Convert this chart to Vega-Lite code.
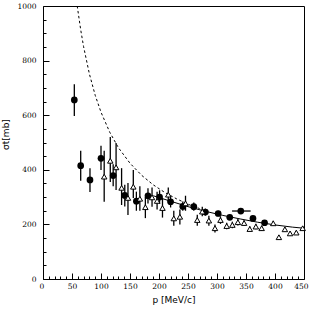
{
  "$schema": "https://vega.github.io/schema/vega-lite/v6.json",
  "width": 261,
  "height": 273,
  "autosize": "none",
  "padding": {"left": 43, "top": 6, "right": 6, "bottom": 32},
  "background": "white",
  "config": {
    "view": {"stroke": "black", "strokeWidth": 1},
    "axis": {"labelFont": "DejaVu Serif", "titleFont": "DejaVu Sans", "labelColor": "black", "titleColor": "black", "domainColor": "black", "tickColor": "black", "grid": false, "titleFontWeight": "normal"}
  },
  "datasets": {
    "circles": [
      {"p": 54, "s": 656, "lo": 597, "hi": 713},
      {"p": 65, "s": 415, "lo": 360, "hi": 470},
      {"p": 81, "s": 363, "lo": 319, "hi": 406},
      {"p": 100, "s": 442, "lo": 399, "hi": 488},
      {"p": 121, "s": 379, "lo": 340, "hi": 420},
      {"p": 141, "s": 306, "lo": 266, "hi": 345},
      {"p": 161, "s": 285, "lo": 250, "hi": 320},
      {"p": 181, "s": 305, "lo": 277, "hi": 332},
      {"p": 201, "s": 300, "lo": 275, "hi": 325},
      {"p": 220, "s": 283, "lo": 262, "hi": 303},
      {"p": 241, "s": 266, "lo": 250, "hi": 284},
      {"p": 260, "s": 265, "lo": 250, "hi": 280},
      {"p": 280, "s": 245, "lo": 232, "hi": 258},
      {"p": 302, "s": 240, "lo": 230, "hi": 250},
      {"p": 322, "s": 226, "lo": 216, "hi": 236},
      {"p": 341, "s": 249, "lo": 241, "hi": 257, "plo": 326, "phi": 358},
      {"p": 362, "s": 222, "lo": 214, "hi": 230},
      {"p": 382, "s": 206, "lo": 199, "hi": 213}
    ],
    "triangles": [
      {"p": 105.5, "s": 375, "lo": 283, "hi": 470},
      {"p": 116, "s": 433, "lo": 355, "hi": 520},
      {"p": 126, "s": 409, "lo": 326, "hi": 498},
      {"p": 135.5, "s": 334, "lo": 271, "hi": 406},
      {"p": 146.5, "s": 297, "lo": 234, "hi": 352},
      {"p": 155.7, "s": 338, "lo": 297, "hi": 399},
      {"p": 167, "s": 294, "lo": 250, "hi": 340},
      {"p": 176.5, "s": 263, "lo": 223, "hi": 301},
      {"p": 188, "s": 299, "lo": 265, "hi": 335},
      {"p": 196.7, "s": 286, "lo": 255, "hi": 320},
      {"p": 206, "s": 260, "lo": 225, "hi": 295},
      {"p": 216, "s": 309, "lo": 280, "hi": 335},
      {"p": 225.5, "s": 222, "lo": 195, "hi": 250},
      {"p": 236, "s": 228, "lo": 200, "hi": 255},
      {"p": 245.7, "s": 277, "lo": 250, "hi": 305},
      {"p": 266, "s": 216, "lo": 195, "hi": 235},
      {"p": 274.6, "s": 247, "lo": 230, "hi": 265},
      {"p": 286, "s": 214, "lo": 195, "hi": 232},
      {"p": 296.5, "s": 186, "lo": 170, "hi": 200},
      {"p": 306, "s": 216, "lo": 202, "hi": 230},
      {"p": 316.7, "s": 194, "lo": 182, "hi": 206},
      {"p": 326.5, "s": 198, "lo": 186, "hi": 210},
      {"p": 336, "s": 208, "lo": 196, "hi": 220},
      {"p": 346.7, "s": 205, "lo": 195, "hi": 215},
      {"p": 356.5, "s": 183, "lo": 173, "hi": 193},
      {"p": 367, "s": 192, "lo": 182, "hi": 202},
      {"p": 377, "s": 186, "lo": 176, "hi": 196},
      {"p": 397, "s": 204, "lo": 195, "hi": 213},
      {"p": 406.7, "s": 153, "lo": 145, "hi": 161},
      {"p": 417, "s": 182, "lo": 174, "hi": 190},
      {"p": 426, "s": 167, "lo": 160, "hi": 174},
      {"p": 436.7, "s": 170, "lo": 163, "hi": 177},
      {"p": 447.7, "s": 186, "lo": 179, "hi": 193}
    ],
    "dashed": [
      {"p": 59, "s": 1000}, {"p": 65, "s": 913}, {"p": 70, "s": 851}, {"p": 80, "s": 751},
      {"p": 90, "s": 673}, {"p": 100, "s": 611}, {"p": 115, "s": 538}, {"p": 130, "s": 481},
      {"p": 150, "s": 424}, {"p": 170, "s": 380}, {"p": 190, "s": 345}, {"p": 210, "s": 317},
      {"p": 230, "s": 294}, {"p": 250, "s": 274}, {"p": 270, "s": 258}
    ],
    "solid": [
      {"p": 190, "s": 305}, {"p": 220, "s": 285}, {"p": 250, "s": 265}, {"p": 280, "s": 248},
      {"p": 310, "s": 233}, {"p": 340, "s": 220}, {"p": 370, "s": 208}, {"p": 400, "s": 198},
      {"p": 430, "s": 190}, {"p": 450, "s": 186}
    ]
  },
  "encoding": {
    "x": {"field": "p", "type": "quantitative", "scale": {"domain": [0, 450], "nice": false, "zero": false},
      "axis": {"title": "p [MeV/c]", "values": [0,10,20,30,40,50,60,70,80,90,100,110,120,130,140,150,160,170,180,190,200,210,220,230,240,250,260,270,280,290,300,310,320,330,340,350,360,370,380,390,400,410,420,430,440,450],
        "labelExpr": "datum.value % 50 === 0 ? datum.label : ''", "labelOverlap": false, "labelFontSize": 7.5, "labelPadding": 9,
        "tickSize": {"expr": "datum.value % 50 === 0 ? -6 : -3"}, "domain": false, "titleFontSize": 9, "titlePadding": 3, "labelFlush": true, "labelFlushOffset": 4, "format": "d"}},
    "y": {"field": "s", "type": "quantitative", "scale": {"domain": [0, 1000], "nice": false},
      "axis": {"title": "σt[mb]", "values": [0,50,100,150,200,250,300,350,400,450,500,550,600,650,700,750,800,850,900,950,1000],
        "labelExpr": "datum.value % 200 === 0 ? datum.label : ''", "labelOverlap": false, "labelFontSize": 7.5, "labelPadding": 13,
        "tickSize": {"expr": "datum.value % 200 === 0 ? -6 : -3"}, "domain": false, "titleFontSize": 9, "titlePadding": 6, "titleY": 128, "labelFlush": false, "format": "d"}}
  },
  "layer": [
    {"data": {"name": "dashed"}, "mark": {"type": "line", "color": "black", "strokeWidth": 1, "strokeDash": [2.5, 2.5], "clip": true}},
    {"data": {"name": "solid"}, "mark": {"type": "line", "color": "black", "strokeWidth": 1}},
    {"data": {"name": "circles"}, "mark": {"type": "rule", "color": "black", "strokeWidth": 1.3}, "encoding": {"y": {"field": "lo", "type": "quantitative"}, "y2": {"field": "hi"}}},
    {"data": {"name": "circles"}, "transform": [{"filter": "datum.plo != null"}], "mark": {"type": "rule", "color": "black", "strokeWidth": 1.3}, "encoding": {"x": {"field": "plo", "type": "quantitative"}, "x2": {"field": "phi"}}},
    {"data": {"name": "triangles"}, "mark": {"type": "rule", "color": "black", "strokeWidth": 1.3}, "encoding": {"y": {"field": "lo", "type": "quantitative"}, "y2": {"field": "hi"}}},
    {"data": {"name": "circles"}, "mark": {"type": "point", "shape": "circle", "filled": true, "color": "black", "size": 45, "opacity": 1}},
    {"data": {"name": "triangles"}, "mark": {"type": "point", "shape": "triangle-up", "filled": true, "fill": "white", "stroke": "black", "strokeWidth": 1, "size": 30, "opacity": 1}}
  ]
}
